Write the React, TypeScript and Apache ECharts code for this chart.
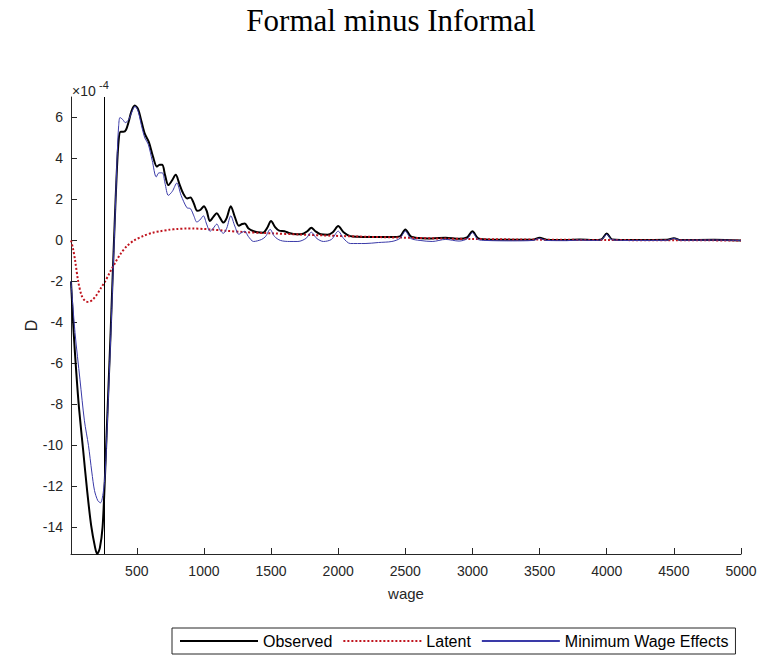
import React, { useEffect, useRef } from "react";
import * as echarts from "echarts";

// wage grid + values (units of 1e-4)
const WAGE_OBS = [10, 30, 50, 70, 100, 130, 160, 190, 205, 225, 245, 260, 275, 290, 305, 320, 335, 350, 365, 380, 400, 420, 440, 460, 485, 510, 535, 560, 590, 620, 650, 670, 690, 710, 735, 760, 790, 815, 845, 875, 900, 925, 950, 975, 1000, 1020, 1045, 1070, 1095, 1120, 1145, 1170, 1200, 1230, 1260, 1285, 1305, 1330, 1370, 1400, 1440, 1470, 1500, 1530, 1560, 1600, 1640, 1690, 1740, 1770, 1800, 1830, 1870, 1920, 1960, 2000, 2040, 2090, 2150, 2200, 2300, 2400, 2460, 2500, 2540, 2600, 2700, 2800, 2900, 2960, 3000, 3040, 3100, 3300, 3450, 3500, 3550, 3700, 3800, 3900, 3960, 4000, 4040, 4200, 4450, 4500, 4550, 4800, 5000];
const OBSERVED = [-2.0, -4.5, -6.5, -8.2, -10.2, -12.2, -13.9, -15.0, -15.3, -15.0, -14.0, -12.0, -9.5, -7.0, -4.5, -1.8, 0.8, 3.2, 4.9, 5.3, 5.3, 5.4, 5.8, 6.3, 6.58, 6.4, 5.8, 5.2, 4.8, 4.1, 3.6, 3.7, 3.7, 3.2, 2.7, 2.9, 3.2, 2.8, 2.3, 2.05, 2.1, 1.8, 1.45, 1.5, 1.67, 1.45, 0.95, 1.15, 1.33, 1.1, 0.87, 1.1, 1.67, 1.15, 0.72, 0.8, 0.83, 0.6, 0.45, 0.4, 0.38, 0.6, 0.95, 0.65, 0.48, 0.45, 0.35, 0.3, 0.33, 0.45, 0.62, 0.45, 0.3, 0.28, 0.4, 0.7, 0.4, 0.21, 0.18, 0.17, 0.17, 0.17, 0.2, 0.54, 0.2, 0.12, 0.1, 0.13, 0.08, 0.15, 0.45, 0.12, 0.05, 0.03, 0.04, 0.13, 0.04, 0.02, 0.05, 0.02, 0.05, 0.34, 0.05, 0.02, 0.03, 0.11, 0.02, 0.03, 0.0];

const WAGE_LAT = [10, 25, 40, 65, 90, 115, 139, 170, 202, 235, 264, 300, 338, 380, 425, 480, 549, 620, 674, 740, 800, 870, 922, 1000, 1046, 1170, 1294, 1418, 1500, 1716, 1965, 2213, 2462, 2810, 3000, 3500, 4000, 4500, 5000];
const LATENT = [0.0, -0.4, -0.95, -2.05, -2.7, -2.95, -3.0, -2.9, -2.65, -2.3, -2.0, -1.55, -1.1, -0.65, -0.28, 0.0, 0.22, 0.38, 0.45, 0.52, 0.56, 0.58, 0.58, 0.56, 0.54, 0.47, 0.41, 0.37, 0.35, 0.29, 0.23, 0.18, 0.14, 0.09, 0.07, 0.04, 0.02, 0.01, 0.0];

const WAGE_MWE = [10, 40, 77, 110, 140, 165, 185, 210, 230, 250, 265, 280, 295, 310, 325, 340, 355, 365, 375, 395, 415, 440, 465, 487, 510, 535, 560, 585, 615, 645, 665, 690, 710, 735, 765, 798, 830, 873, 900, 925, 947, 970, 996, 1020, 1046, 1070, 1096, 1120, 1145, 1170, 1200, 1230, 1260, 1285, 1305, 1330, 1370, 1430, 1460, 1493, 1525, 1570, 1640, 1700, 1760, 1800, 1840, 1890, 1950, 2000, 2040, 2090, 2200, 2300, 2400, 2460, 2500, 2540, 2610, 2700, 2800, 2900, 2960, 3000, 3040, 3100, 3300, 3450, 3500, 3550, 3700, 3800, 3900, 3960, 4000, 4040, 4200, 4450, 4500, 4550, 4800, 5000];
const MIN_WAGE_EFFECTS = [-2.0, -4.5, -6.8, -8.8, -10.0, -11.3, -12.2, -12.7, -12.8, -12.3, -11.3, -9.0, -6.5, -4.0, -1.2, 1.5, 4.3, 5.6, 6.0, 5.9, 5.75, 5.9, 6.3, 6.55, 6.3, 5.6, 5.0, 4.7, 3.9, 3.1, 3.3, 3.3, 2.8, 2.2, 2.4, 2.8, 2.2, 1.6, 1.55, 1.2, 0.9, 1.0, 1.2, 0.8, 0.45, 0.6, 0.8, 0.5, 0.35, 0.6, 1.2, 0.7, 0.3, 0.4, 0.45, 0.2, -0.05, 0.05, 0.2, 0.54, 0.2, 0.0, -0.05, -0.05, 0.1, 0.4, 0.1, -0.05, 0.05, 0.45, 0.1, -0.15, -0.15, -0.1, -0.05, 0.1, 0.45, 0.1, 0.0, -0.05, 0.05, -0.03, 0.08, 0.38, 0.05, 0.0, -0.02, 0.0, 0.1, 0.0, -0.01, 0.02, 0.0, 0.03, 0.3, 0.03, 0.0, 0.01, 0.1, 0.01, 0.02, 0.0];

const MIN_WAGE = 258;
const Y_TICKS = [-14, -12, -10, -8, -6, -4, -2, 0, 2, 4, 6];
const X_TICKS = [500, 1000, 1500, 2000, 2500, 3000, 3500, 4000, 4500, 5000];

const zip = (xs: number[], ys: number[]) => xs.map((x, i) => [x, ys[i]]);

export default function App() {
  const ref = useRef<HTMLDivElement>(null);
  useEffect(() => {
    if (!ref.current) return;
    const chart = echarts.init(ref.current, null, { renderer: "svg" });
    const axisColor = "#262626";
    const sans = "Liberation Sans";
    chart.setOption({
      animation: false,
      backgroundColor: "#ffffff",
      title: {
        text: "Formal minus Informal",
        left: 391,
        textAlign: "center",
        top: 5,
        padding: 0,
        textStyle: { fontFamily: "Liberation Serif", fontSize: 31, fontWeight: "normal", color: "#000" },
      },
      grid: { left: 71, right: 19, top: 97, bottom: 107 },
      xAxis: {
        type: "value",
        min: 10,
        max: 5000,
        name: "wage",
        nameLocation: "middle",
        nameGap: 32,
        nameMoveOverlap: false,
        nameTextStyle: { fontFamily: sans, fontSize: 15, color: axisColor },
        axisLine: { onZero: false, lineStyle: { color: axisColor, width: 1 } },
        axisTick: { inside: true, length: 6, customValues: X_TICKS, lineStyle: { color: axisColor } },
        axisLabel: {
          customValues: X_TICKS,
          formatter: (v: number) => String(v),
          fontFamily: sans,
          fontSize: 14,
          color: axisColor,
          margin: 10,
        },
        splitLine: { show: false },
      },
      yAxis: {
        type: "value",
        min: -15.3,
        max: 7,
        name: "D",
        nameLocation: "middle",
        nameGap: 32,
        nameMoveOverlap: false,
        nameTextStyle: { fontFamily: sans, fontSize: 16, color: axisColor },
        axisLine: { show: true, lineStyle: { color: axisColor, width: 1 } },
        axisTick: { show: true, inside: true, length: 6, customValues: Y_TICKS, lineStyle: { color: axisColor } },
        axisLabel: { customValues: Y_TICKS, fontFamily: sans, fontSize: 14, color: axisColor, margin: 8 },
        splitLine: { show: false },
      },
      legend: {
        left: 172,
        top: 628,
        orient: "horizontal",
        itemWidth: 78,
        itemHeight: 10,
        itemGap: 10,
        padding: [5, 7],
        borderColor: axisColor,
        borderWidth: 1,
        backgroundColor: "#fff",
        itemStyle: { opacity: 0 },
        textStyle: { fontFamily: sans, fontSize: 16, color: "#000" },
        data: ["Observed", "Latent", "Minimum Wage Effects"],
      },
      graphic: [
        { type: "text", x: 72, y: 98, style: { text: "×10", font: `14px "${sans}"`, fill: axisColor, verticalAlign: "bottom" } },
        { type: "text", x: 99, y: 90, style: { text: "-4", font: `11px "${sans}"`, fill: axisColor, verticalAlign: "bottom" } },
      ],
      series: [
        {
          name: "Observed",
          type: "line",
          data: zip(WAGE_OBS, OBSERVED),
          smooth: 0.3,
          symbol: "none",
          lineStyle: { color: "#000", width: 2 },
          itemStyle: { color: "#000" },
          z: 3,
          markLine: {
            silent: true,
            symbol: "none",
            label: { show: false },
            lineStyle: { color: "#000", width: 1, type: "solid" },
            data: [{ xAxis: MIN_WAGE }],
          },
        },
        {
          name: "Latent",
          type: "line",
          data: zip(WAGE_LAT, LATENT),
          smooth: 0.3,
          symbol: "none",
          lineStyle: { color: "#c0141e", width: 2, type: [2, 2] },
          itemStyle: { color: "#c0141e" },
          z: 4,
        },
        {
          name: "Minimum Wage Effects",
          type: "line",
          data: zip(WAGE_MWE, MIN_WAGE_EFFECTS),
          smooth: 0.3,
          symbol: "none",
          lineStyle: { color: "#3a3aa8", width: 1 },
          itemStyle: { color: "#3a3aa8" },
          z: 5,
        },
      ],
    });
    return () => chart.dispose();
  }, []);
  return <div ref={ref} style={{ position: "fixed", left: 0, top: 0, width: 760, height: 661 }} />;
}
